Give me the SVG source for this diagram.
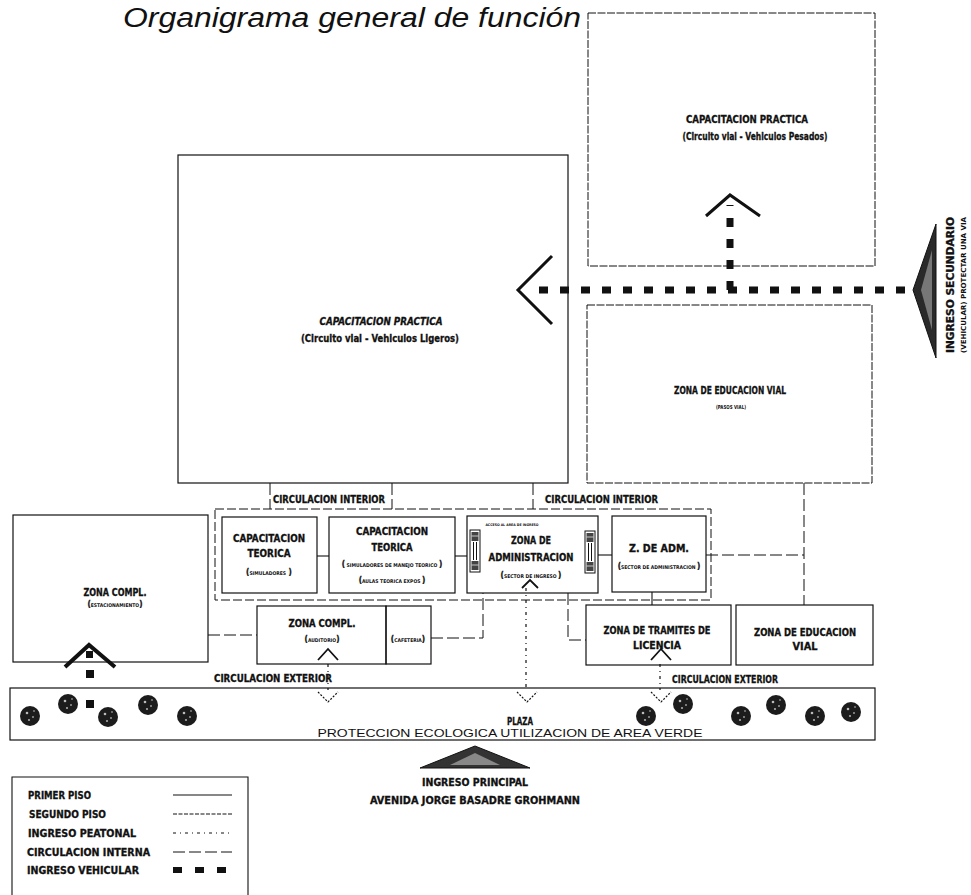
<svg xmlns="http://www.w3.org/2000/svg" xmlns:xlink="http://www.w3.org/1999/xlink" width="971" height="895" viewBox="0 0 971 895">
  <style>
    .bg { fill: #ffffff; }
    .box { fill: none; stroke: #111; stroke-width: 1.2; }
    .box2 { fill: none; stroke: #111; stroke-width: 1; stroke-dasharray: 8 1.5; }
    .encl { fill: none; stroke: #111; stroke-width: 1; stroke-dasharray: 9 3; }
    .solid { fill: none; stroke: #111; stroke-width: 1.1; }
    .circ { fill: none; stroke: #111; stroke-width: 1; stroke-dasharray: 12 4; }
    .seg { fill: none; stroke: #111; stroke-width: 1; stroke-dasharray: 4 1.5; }
    .peat { fill: none; stroke: #111; stroke-width: 1.2; stroke-dasharray: 3 4 1 4; }
    .veh { fill: none; stroke: #111; stroke-width: 7; stroke-dasharray: 9 12; }
    .chev { fill: none; stroke: #111; stroke-width: 3; stroke-linejoin: miter; }
    .chevThin { fill: none; stroke: #111; stroke-width: 1.8; }
    .vmark { fill: none; stroke: #111; stroke-width: 1.2; stroke-dasharray: 2 1.5; }
    .lbl { font-family: "Liberation Sans Narrow", "DejaVu Sans Condensed", "Liberation Sans", sans-serif; font-weight: bold; font-size: 10.5px; fill: #111; stroke: #111; stroke-width: 0.3; text-anchor: middle; }
    .lblL { font-family: "Liberation Sans Narrow", "DejaVu Sans Condensed", "Liberation Sans", sans-serif; font-weight: bold; font-size: 10.5px; fill: #111; stroke: #111; stroke-width: 0.3; }
    .it { font-style: italic; }
    .tiny { font-family: "Liberation Sans Narrow", "DejaVu Sans Condensed", "Liberation Sans", sans-serif; font-weight: bold; font-size: 5.5px; fill: #111; text-anchor: middle; }
    .plain { font-family: "Liberation Sans Narrow", "Liberation Sans", sans-serif; font-size: 10.5px; fill: #111; text-anchor: middle; }
    .title { font-family: "Liberation Sans", Arial, sans-serif; font-style: italic; font-size: 27px; fill: #111; }
  </style>
  <defs>
    <!-- tree canopy used along the plaza -->
    <g id="tree">
      <circle r="10" fill="#1c1c1c"/>
      <circle cx="-3" cy="-3" r="1.3" fill="#bbb"/>
      <circle cx="3" cy="1" r="1" fill="#999"/>
      <circle cx="-1" cy="4" r="1.1" fill="#aaa"/>
      <circle cx="4" cy="-5" r="0.8" fill="#ccc"/>
    </g>
    <!-- turnstile / access control symbol -->
    <g id="gate">
      <rect x="0" y="0" width="10" height="42" fill="#fff" stroke="#111" stroke-width="1"/>
      <rect x="1.5" y="2" width="7" height="9" fill="#444"/>
      <rect x="1.5" y="31" width="7" height="9" fill="#444"/>
      <line x1="3.5" y1="12" x2="3.5" y2="30" stroke="#111" stroke-width="1"/>
      <line x1="6.5" y1="12" x2="6.5" y2="30" stroke="#111" stroke-width="1"/>
      <line x1="1.5" y1="6" x2="8.5" y2="6" stroke="#fff" stroke-width="0.7"/>
      <line x1="1.5" y1="35" x2="8.5" y2="35" stroke="#fff" stroke-width="0.7"/>
    </g>
  </defs>

  <rect class="bg" x="0" y="0" width="971" height="895"/>

  <text class="title" x="123" y="27" textLength="458" lengthAdjust="spacingAndGlyphs">Organigrama general de función</text>

  <!-- connectors -->
  <g id="connectors">
    <!-- interior circulation from the practice field -->
    <line class="circ" x1="270" y1="483" x2="270" y2="509"/>
    <line class="circ" x1="392" y1="483" x2="392" y2="509"/>
    <line class="circ" x1="533" y1="483" x2="533" y2="509"/>
    <!-- first floor links between classrooms and administration -->
    <line class="solid" x1="317" y1="556" x2="329" y2="556"/>
    <line class="solid" x1="455" y1="556" x2="467" y2="556"/>
    <line class="solid" x1="598" y1="555" x2="612" y2="555"/>
    <line class="solid" x1="652" y1="592" x2="652" y2="605"/>
    <!-- administration to road education -->
    <polyline class="circ" points="706,555 804,555"/>
    <line class="circ" x1="804" y1="483" x2="804" y2="605"/>
    <!-- admin to licence procedures -->
    <polyline class="circ" points="568,593 568,640 586,640"/>
    <!-- parking to auditorium -->
    <line class="circ" x1="208" y1="635" x2="257" y2="635"/>
    <!-- cafeteria to administration -->
    <polyline class="circ" points="431,638 483,638 483,593"/>
    <!-- pedestrian entries from the plaza -->
    <line class="peat" x1="526" y1="588" x2="526" y2="690"/>
    <line class="peat" x1="328" y1="664" x2="328" y2="690"/>
    <line class="peat" x1="660" y1="664" x2="660" y2="690"/>
    <polyline class="vmark" points="318,692 328,702 338,692"/>
    <polyline class="vmark" points="517,692 527,702 537,692"/>
    <polyline class="vmark" points="651,692 661,702 671,692"/>
    <polyline class="chevThin" points="318,660 328,649 338,660"/>
    <polyline class="chevThin" points="651,660 661,649 671,660"/>
    <polyline class="chevThin" points="522,588 530,580 538,588"/>
    <!-- vehicle entry (secondary) -->
    <line class="veh" x1="905" y1="290" x2="535" y2="290"/>
    <line class="veh" x1="730" y1="290" x2="730" y2="205"/>
    <polyline class="chev" points="552,256 518,290 552,324"/>
    <polyline class="chev" points="706,216 730,195 760,216"/>
    <!-- vehicle entry into parking -->
    <polyline class="chev" points="65,667 89,645 115,667" style="stroke-width:4"/>
    <rect x="86" y="651" width="7" height="7" fill="#111"/>
    <rect x="86" y="670" width="8" height="8" fill="#111"/>
    <rect x="86" y="700" width="8" height="8" fill="#111"/>
  </g>

  <!-- practice field, light vehicles -->
  <g id="practica-ligeros">
    <rect class="box" x="178" y="155" width="390" height="328"/>
    <text class="lbl it" x="381" y="325" textLength="123" lengthAdjust="spacingAndGlyphs">CAPACITACION PRACTICA</text>
    <text class="lbl" x="380" y="342" textLength="158" lengthAdjust="spacingAndGlyphs">(Circuito vial - Vehiculos Ligeros)</text>
  </g>

  <!-- practice field, heavy vehicles -->
  <g id="practica-pesados">
    <rect class="box2" x="588" y="13" width="287" height="253"/>
    <text class="lbl" x="747" y="123" textLength="122" lengthAdjust="spacingAndGlyphs">CAPACITACION PRACTICA</text>
    <text class="lbl" x="755" y="140" textLength="145" lengthAdjust="spacingAndGlyphs">(Circuito vial - Vehiculos Pesados)</text>
  </g>

  <!-- road education area -->
  <g id="educacion-vial">
    <rect class="box2" x="587" y="305" width="285" height="178"/>
    <text class="lbl" x="730" y="394" textLength="112" lengthAdjust="spacingAndGlyphs">ZONA DE EDUCACION VIAL</text>
    <text class="tiny" x="731" y="409" textLength="30" lengthAdjust="spacingAndGlyphs">(PASOS VIAL)</text>
  </g>

  <!-- secondary entry -->
  <g id="ingreso-secundario">
    <polygon points="913,290 936,224 936,358" fill="#2a2a2a" stroke="#111" stroke-width="1"/>
    <polygon points="921,290 932,250 932,330" fill="#777"/>
    <text class="lbl" transform="translate(954,285) rotate(-90)" textLength="136" lengthAdjust="spacingAndGlyphs">INGRESO SECUNDARIO</text>
    <text class="tiny" transform="translate(966,285) rotate(-90)" style="font-size:7px" textLength="136" lengthAdjust="spacingAndGlyphs">(VEHICULAR) PROTECTAR UNA VIA</text>
  </g>

  <!-- interior circulation enclosure -->
  <g id="circulacion-interior">
    <rect class="encl" x="215" y="509" width="496" height="91"/>
    <text class="lblL" x="273" y="503" textLength="112" lengthAdjust="spacingAndGlyphs">CIRCULACION INTERIOR</text>
    <text class="lblL" x="545" y="503" textLength="113" lengthAdjust="spacingAndGlyphs">CIRCULACION INTERIOR</text>
  </g>

  <g id="teorica-simuladores">
    <rect class="box" x="222" y="517" width="95" height="76"/>
    <text class="lbl" x="269" y="542" textLength="72" lengthAdjust="spacingAndGlyphs">CAPACITACION</text>
    <text class="lbl" x="269" y="557" textLength="43" lengthAdjust="spacingAndGlyphs">TEORICA</text>
    <text class="lbl" x="269" y="575" style="font-size:8px">(<tspan style="font-size:5px;stroke-width:0">SIMULADORES</tspan> )</text>
  </g>

  <g id="teorica-aulas">
    <rect class="box" x="329" y="517" width="126" height="76"/>
    <text class="lbl" x="392" y="535" textLength="72" lengthAdjust="spacingAndGlyphs">CAPACITACION</text>
    <text class="lbl" x="392" y="551" textLength="41" lengthAdjust="spacingAndGlyphs">TEORICA</text>
    <text class="lbl" x="392" y="567" style="font-size:8px">(<tspan style="font-size:5px;stroke-width:0"> SIMULADORES DE MANEJO TEORICO </tspan>)</text>
    <text class="lbl" x="392" y="583" style="font-size:8px">(<tspan style="font-size:5px;stroke-width:0">AULAS TEORICA EXPOS </tspan>)</text>
  </g>

  <g id="administracion">
    <rect class="box" x="467" y="516" width="131" height="77"/>
    <text class="tiny" x="512" y="526" style="font-size:3.5px">ACCESO AL AREA DE INGRESO</text>
    <use xlink:href="#gate" x="470" y="530"/>
    <use xlink:href="#gate" x="585" y="531"/>
    <text class="lbl" x="531" y="544" textLength="40" lengthAdjust="spacingAndGlyphs">ZONA DE</text>
    <text class="lbl" x="531" y="561" textLength="85" lengthAdjust="spacingAndGlyphs">ADMINISTRACION</text>
    <text class="lbl" x="531" y="578" style="font-size:8px">(<tspan style="font-size:5px;stroke-width:0">SECTOR DE INGRESO </tspan>)</text>
  </g>

  <g id="z-adm">
    <rect class="box" x="612" y="516" width="94" height="76"/>
    <text class="lbl" x="659" y="552" textLength="60" lengthAdjust="spacingAndGlyphs">Z. DE ADM.</text>
    <text class="lbl" x="659" y="569" style="font-size:8px">(<tspan style="font-size:5px;stroke-width:0">SECTOR DE ADMINISTRACION </tspan>)</text>
  </g>

  <g id="zona-compl-estacionamiento">
    <rect class="box" x="13" y="515" width="195" height="147"/>
    <text class="lbl" x="115" y="596" textLength="63" lengthAdjust="spacingAndGlyphs">ZONA COMPL.</text>
    <text class="lbl" x="115" y="607" style="font-size:8px">(<tspan style="font-size:5px;stroke-width:0">ESTACIONAMIENTO</tspan>)</text>
  </g>

  <g id="zona-compl-auditorio">
    <rect class="box" x="257" y="606" width="129" height="58"/>
    <rect class="box" x="386" y="606" width="45" height="58"/>
    <text class="lbl" x="322" y="627" textLength="67" lengthAdjust="spacingAndGlyphs">ZONA COMPL.</text>
    <text class="lbl" x="322" y="642" style="font-size:8px">(<tspan style="font-size:5px;stroke-width:0">AUDITORIO</tspan>)</text>
    <text class="lbl" x="408" y="642" style="font-size:8px">(<tspan style="font-size:5px;stroke-width:0">CAFETERIA</tspan>)</text>
  </g>

  <g id="tramites-licencia">
    <rect class="box" x="586" y="605" width="145" height="60"/>
    <text class="lbl" x="657" y="634" textLength="107" lengthAdjust="spacingAndGlyphs">ZONA DE TRAMITES DE</text>
    <text class="lbl" x="657" y="649" textLength="48" lengthAdjust="spacingAndGlyphs">LICENCIA</text>
  </g>

  <g id="educacion-vial-2">
    <rect class="box" x="736" y="605" width="137" height="60"/>
    <text class="lbl" x="805" y="636" textLength="102" lengthAdjust="spacingAndGlyphs">ZONA DE EDUCACION</text>
    <text class="lbl" x="805" y="650" textLength="25" lengthAdjust="spacingAndGlyphs">VIAL</text>
  </g>

  <g id="circulacion-exterior">
    <text class="lblL" x="214" y="682" textLength="118" lengthAdjust="spacingAndGlyphs">CIRCULACION EXTERIOR</text>
    <text class="lblL" x="672" y="683" textLength="106" lengthAdjust="spacingAndGlyphs">CIRCULACION EXTERIOR</text>
  </g>

  <g id="plaza">
    <rect class="box" x="10" y="688" width="865" height="52"/>
    <use xlink:href="#tree" x="30" y="716"/>
    <use xlink:href="#tree" x="68" y="704"/>
    <use xlink:href="#tree" x="108" y="717"/>
    <use xlink:href="#tree" x="148" y="705"/>
    <use xlink:href="#tree" x="187" y="716"/>
    <use xlink:href="#tree" x="646" y="716"/>
    <use xlink:href="#tree" x="683" y="704"/>
    <use xlink:href="#tree" x="741" y="716"/>
    <use xlink:href="#tree" x="776" y="705"/>
    <use xlink:href="#tree" x="815" y="716"/>
    <use xlink:href="#tree" x="851" y="712"/>
    <text class="lbl" x="520" y="725" textLength="26" lengthAdjust="spacingAndGlyphs">PLAZA</text>
    <text class="plain" x="510" y="737" textLength="385" lengthAdjust="spacingAndGlyphs">PROTECCION ECOLOGICA UTILIZACION DE AREA VERDE</text>
  </g>

  <g id="ingreso-principal">
    <polygon points="420,768 475,746 530,768" fill="#333" stroke="#111" stroke-width="1"/>
    <polygon points="450,765 475,753 500,765" fill="#888"/>
    <text class="lbl" x="475" y="786" textLength="106" lengthAdjust="spacingAndGlyphs">INGRESO PRINCIPAL</text>
    <text class="lbl" x="475" y="804" textLength="210" lengthAdjust="spacingAndGlyphs">AVENIDA JORGE BASADRE GROHMANN</text>
  </g>

  <!-- legend -->
  <g id="leyenda">
    <polyline class="solid" points="12,895 12,777 248,777 248,895"/>
    <text class="lblL" x="28" y="799" textLength="63" lengthAdjust="spacingAndGlyphs">PRIMER PISO</text>
    <text class="lblL" x="29" y="818" textLength="77" lengthAdjust="spacingAndGlyphs">SEGUNDO PISO</text>
    <text class="lblL" x="28" y="837" textLength="108" lengthAdjust="spacingAndGlyphs">INGRESO  PEATONAL</text>
    <text class="lblL" x="27" y="856" textLength="123" lengthAdjust="spacingAndGlyphs">CIRCULACION INTERNA</text>
    <text class="lblL" x="27" y="874" textLength="112" lengthAdjust="spacingAndGlyphs">INGRESO VEHICULAR</text>
    <line class="solid" x1="173" y1="795" x2="232" y2="795"/>
    <line class="seg" x1="173" y1="814" x2="232" y2="814"/>
    <line class="peat" x1="173" y1="833" x2="232" y2="833"/>
    <line class="circ" x1="173" y1="852" x2="232" y2="852"/>
    <line x1="173" y1="870" x2="232" y2="870" stroke="#111" stroke-width="6" stroke-dasharray="9 13"/>
  </g>
</svg>
